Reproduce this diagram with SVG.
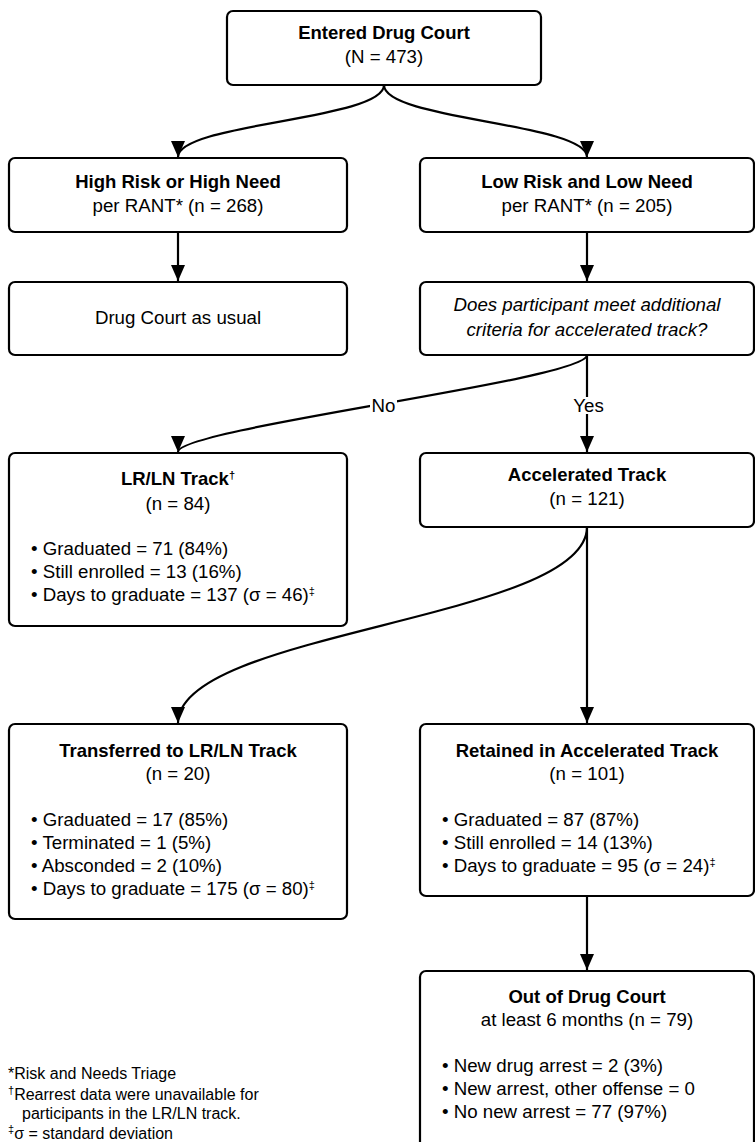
<svg xmlns="http://www.w3.org/2000/svg" width="755" height="1142" viewBox="0 0 755 1142">
<style>
.box{fill:#fff;stroke:#000;stroke-width:2.2}
text{font-family:"Liberation Sans",Arial,sans-serif;font-size:18.7px;fill:#000}
.t{font-weight:bold;text-anchor:middle;font-size:18.5px}
.c{text-anchor:middle}
.i{font-style:italic;text-anchor:middle}
.fn{font-size:16px}
.sup{font-size:11px;baseline-shift:super}
.edge{fill:none;stroke:#000;stroke-width:2.2}
.lbl{fill:#fff;stroke:none}
</style>
<defs>
<marker id="arr" viewBox="0 0 16 14" refX="16" refY="7" markerWidth="16" markerHeight="14" markerUnits="userSpaceOnUse" orient="auto">
<path d="M0,0 L16,7 L0,14 Z" fill="#000"/>
</marker>
</defs>

<g id="connectors">
<path class="edge" d="M384,85 C384,120 178,123 178,157" marker-end="url(#arr)"/>
<path class="edge" d="M384,85 C384,120 587,123 587,157" marker-end="url(#arr)"/>
<path class="edge" d="M178,232 L178,281" marker-end="url(#arr)"/>
<path class="edge" d="M587,232 L587,281" marker-end="url(#arr)"/>
<path class="edge" d="M587,355 C587,380 178,428 178,452" marker-end="url(#arr)"/>
<path class="edge" d="M587,355 L587,452" marker-end="url(#arr)"/>
<path class="edge" d="M587,527 C587,620 178,631 178,723" marker-end="url(#arr)"/>
<path class="edge" d="M587,527 L587,723" marker-end="url(#arr)"/>
<path class="edge" d="M587,896 L587,970" marker-end="url(#arr)"/>
<rect class="lbl" x="370" y="397" width="27" height="17"/>
<text x="383.5" y="412" class="c">No</text>
<rect class="lbl" x="573" y="397" width="31" height="17"/>
<text x="588.5" y="412" class="c">Yes</text>
</g>

<g id="entered">
<rect class="box" x="227" y="11" width="314" height="74" rx="6"/>
<text x="384" y="39" class="t">Entered Drug Court</text>
<text x="384" y="63" class="c">(N = 473)</text>
</g>

<g id="high-risk">
<rect class="box" x="9" y="158" width="338" height="74" rx="6"/>
<text x="178" y="188" class="t">High Risk or High Need</text>
<text x="178" y="212" class="c">per RANT* (n = 268)</text>
</g>

<g id="low-risk">
<rect class="box" x="420" y="158" width="334" height="74" rx="6"/>
<text x="587" y="188" class="t">Low Risk and Low Need</text>
<text x="587" y="212" class="c">per RANT* (n = 205)</text>
</g>

<g id="as-usual">
<rect class="box" x="9" y="282" width="338" height="73" rx="6"/>
<text x="178" y="324" class="c">Drug Court as usual</text>
</g>

<g id="question">
<rect class="box" x="420" y="282" width="334" height="73" rx="6"/>
<text x="587" y="311" class="i">Does participant meet additional</text>
<text x="587" y="336" class="i">criteria for accelerated track?</text>
</g>

<g id="lrln">
<rect class="box" x="9" y="453" width="338" height="173" rx="6"/>
<text x="178" y="485" class="t">LR/LN Track<tspan class="sup">†</tspan></text>
<text x="178" y="510" class="c">(n = 84)</text>
<text x="31" y="555">• Graduated = 71 (84%)</text>
<text x="31" y="578">• Still enrolled = 13 (16%)</text>
<text x="31" y="601">• Days to graduate = 137 (σ = 46)<tspan class="sup">‡</tspan></text>
</g>

<g id="accelerated">
<rect class="box" x="420" y="453" width="334" height="74" rx="6"/>
<text x="587" y="481" class="t">Accelerated Track</text>
<text x="587" y="505" class="c">(n = 121)</text>
</g>

<g id="transferred">
<rect class="box" x="9" y="724" width="338" height="195" rx="6"/>
<text x="178" y="757" class="t">Transferred to LR/LN Track</text>
<text x="178" y="780" class="c">(n = 20)</text>
<text x="31" y="826">• Graduated = 17 (85%)</text>
<text x="31" y="849">• Terminated = 1 (5%)</text>
<text x="31" y="872">• Absconded = 2 (10%)</text>
<text x="31" y="895">• Days to graduate = 175 (σ = 80)<tspan class="sup">‡</tspan></text>
</g>

<g id="retained">
<rect class="box" x="420" y="724" width="334" height="172" rx="6"/>
<text x="587" y="757" class="t">Retained in Accelerated Track</text>
<text x="587" y="780" class="c">(n = 101)</text>
<text x="442" y="826">• Graduated = 87 (87%)</text>
<text x="442" y="849">• Still enrolled = 14 (13%)</text>
<text x="442" y="872">• Days to graduate = 95 (σ = 24)<tspan class="sup">‡</tspan></text>
</g>

<g id="out">
<rect class="box" x="420" y="971" width="334" height="185" rx="6"/>
<text x="587" y="1003" class="t">Out of Drug Court</text>
<text x="587" y="1026" class="c">at least 6 months (n = 79)</text>
<text x="442" y="1072">• New drug arrest = 2 (3%)</text>
<text x="442" y="1095">• New arrest, other offense = 0</text>
<text x="442" y="1118">• No new arrest = 77 (97%)</text>
</g>

<g id="footnotes">
<text x="8" y="1079" class="fn">*Risk and Needs Triage</text>
<text x="8" y="1100" class="fn"><tspan class="sup">†</tspan>Rearrest data were unavailable for</text>
<text x="22" y="1119" class="fn">participants in the LR/LN track.</text>
<text x="8" y="1139" class="fn"><tspan class="sup">‡</tspan>σ = standard deviation</text>
</g>
</svg>
